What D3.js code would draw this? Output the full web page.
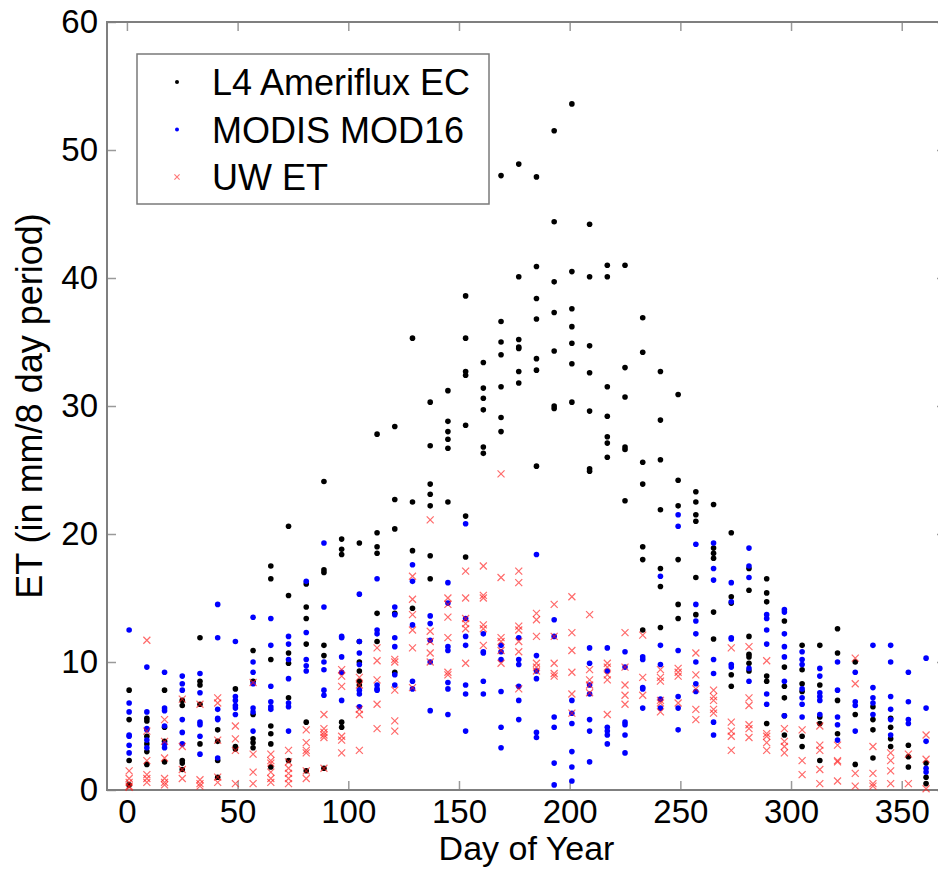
<!DOCTYPE html>
<html><head><meta charset="utf-8">
<script src="https://cdn.jsdelivr.net/npm/d3@7"></script>
<style>body{margin:0;background:#fff} svg{display:block;font-family:"Liberation Sans",Arial,sans-serif}</style>
</head><body><svg id="chart"></svg>
<script>
// 8-day periods (day of year at start of each period)
const days = [1,9,17,25,33,41,49,57,65,73,81,89,97,105,113,121,129,137,145,153,161,169,177,185,193,201,209,217,225,233,241,249,257,265,273,281,289,297,305,313,321,329,337,345,353,361];
// ET in mm per 8-day period, one list per period (several years each)
const ameriflux = [[7.8,5.5,2.3,0.4],[5.6,5.4,4.2,3.6,3.0,2.0],[7.8,4.9,3.8,2.2],[7.0,6.6,2.3,2.1,1.6],[11.9,8.5,8.2,6.7,3.6],[4.7,3.8,2.3,1.0],[7.9,3.4,3.2],[10.9,8.5,5.9,4.0,3.7,3.3],
 [17.5,16.5,10.2,5.0,4.4,3.6,1.8],[20.6,15.2,10.7,9.9,7.2,2.3],[16.1,14.3,13.4,11.4,5.3,1.5],[24.1,17.2,17.0,11.3,10.5,1.7],[19.6,18.8,18.4,5.3,4.9],[19.3,11.6,10.0,9.3,8.5,8.2],
 [27.8,20.1,19.0,18.5,13.8,11.6],[28.4,22.7,20.4,13.8,9.2],[35.3,22.5,18.7,14.2],[30.3,26.9,23.9,23.1,22.2,18.3,16.5],[31.2,28.8,28.0,27.4,26.7,22.5],[38.6,35.3,32.7,32.4,28.5,21.4,18.2],
 [33.4,31.4,30.6,29.7,26.8,26.3],[48.0,36.6,35.0,34.0,31.5,29.1,28.0],[48.9,40.1,35.2,34.6,34.5,32.7,31.8],[47.9,40.9,38.4,36.8,33.7,32.8,25.3],[51.5,44.4,39.7,37.3,34.3,30.0,29.8],
 [53.6,40.5,37.6,36.2,34.9,33.3,30.3],[44.2,40.1,34.7,32.6,29.6,25.1,24.9],[41.0,40.1,31.5,29.2,27.6,27.1,26.0],[41.0,33.0,30.7,26.8,26.6,22.6],[36.9,34.2,25.6,23.9,19.0,18.0,12.5],
 [32.7,28.9,25.8,21.9,17.3,15.9,12.7],[30.9,24.2,22.2,18.0,14.5,13.4],[23.3,22.5,21.5,21.0,16.6,13.7],[22.3,18.9,18.5,18.1,13.9,11.8],[20.1,15.1,14.6,9.0,8.1],[17.3,15.6,12.0,10.6,10.4,9.9,9.3],
 [16.5,15.4,14.7,8.9,8.5,5.2],[13.2,9.6,8.1,7.2,5.8,4.3],[11.3,9.4,8.3,7.7,4.2,3.4],[11.3,8.2,5.7,5.2,2.3],[12.6,10.7,7.0,4.4],[10.0,5.9,2.0],[6.5,5.5,4.7,2.5],[5.6,4.9,4.0,3.4],[3.5,2.6,1.8],[2.1,1.0,0.5]];
const mod16 = [[12.5,6.8,6.1,4.3,4.2,3.5,2.9],[9.6,6.1,4.8,4.7,3.9,3.3],[9.2,6.4,6.2,5.0,3.6,3.3],[8.9,8.3,7.8,5.5,4.5,3.6],[9.1,7.6,5.3,5.1,4.2,2.8],[14.5,11.9,6.3,5.6,5.5,2.5],[11.6,7.3,7.0,6.6,6.4,5.9],
 [13.5,10.0,9.2,8.3,6.4,6.1,4.6],[13.4,11.3,8.1,6.9,6.5,6.3],[12.0,11.4,10.2,8.7,6.8,6.5,4.6],[16.3,12.3,10.2,9.7,9.3],[19.3,14.3,10.0,9.4,7.8,7.4],[12.0,11.9,10.4,9.2,7.0],[15.3,11.6,10.7,9.8,7.8,7.5,6.5],
 [16.5,12.5,12.2,8.2,7.9,7.8],[14.3,13.7,11.9,11.2,9.0,8.2],[17.6,16.3,12.9,8.5,7.9],[13.6,13.0,11.7,10.0,6.2],[16.2,14.6,11.2,10.9,8.4,7.9,5.9],[20.8,13.4,12.0,11.3,8.2,7.5,4.6],
 [12.2,10.8,10.7,8.5,7.5],[11.3,10.8,10.2,7.7,4.9,3.3],[11.9,10.2,9.8,8.1,7.0,5.5],[18.4,10.5,9.3,8.7,4.5,4.1],[13.3,12.0,5.7,4.9,2.1,0.4],[7.0,6.0,5.2,3.0,1.8,0.7],
 [11.1,9.9,8.2,7.5,5.5,4.6,2.2],[11.1,9.3,4.9,4.6,4.3,3.6],[10.8,9.6,5.3,5.1,4.3,2.9],[10.4,10.2,8.0,7.9,6.4],[16.7,11.3,9.8,7.1,6.4],[21.5,20.6,10.9,7.3,6.4,4.7],
 [19.2,14.5,13.2,12.2,10.0,8.3,7.7],[19.3,17.3,16.4,10.2,9.1,5.3,4.3],[16.2,14.7,11.9,11.8,9.8,9.6],[18.9,17.5,16.6,9.5,8.5],[13.7,13.4,12.5,11.4,7.5,6.7],[14.1,13.9,12.2,11.2,10.4,8.5,5.8],
 [10.8,10.2,9.8,7.9,7.2,6.7,5.7],[9.5,8.9,7.6,7.3,7.0,5.9],[10.0,7.8,5.7,5.1,3.9],[9.2,6.9,6.6,4.6],[11.3,8.0,7.2,6.8,5.9],[11.3,10.0,7.3,6.3,5.5,4.3],[9.2,6.9,5.5,5.2],[10.3,6.4,3.8,1.7,1.4]];
const uwet = [[1.5,0.9,0.6,0.3,0.2],[11.7,4.6,2.3,1.2,0.9,0.6],[5.5,3.8,2.5,0.9,0.6,0.4],[7.1,3.4,1.6,0.9],[6.7,0.8,0.5,0.3],[7.2,6.8,3.9,1.0,0.6],[5.0,4.0,3.1,0.5],[8.4,2.8,1.4,0.5],
 [2.8,2.3,2.1,1.4,0.9,0.6],[3.1,2.2,1.7,1.3,0.9,0.5],[4.7,3.7,3.1,2.9,1.5,0.9],[5.9,4.8,4.5,4.3,4.1,1.7],[9.4,8.9,8.1,4.2,3.9,2.9],[8.8,8.2,6.3,5.9,3.1],[11.1,10.1,8.6,6.7,4.8],[10.2,10.0,7.8,5.4,4.6],
 [16.7,14.9,13.7,12.5,11.1,8.0],[21.1,12.4,11.6,10.7,10.0],[15.0,14.5,13.5,11.9,9.2,9.0],[17.1,15.0,13.4,13.0,12.6,9.9],[17.5,15.2,15.0,12.9,12.6,11.3],[24.7,16.6,11.9,11.6,10.9,9.9],
 [17.1,16.2,12.8,12.5,11.6,10.8,7.9],[13.8,13.3,12.0,9.9,9.6,9.3],[14.5,12.0,9.9,9.1,8.9],[15.1,12.3,10.9,9.2,7.5,6.0],[13.7,9.4,8.6,8.2,7.6],[9.9,9.6,9.0,8.6,5.9],[12.3,9.6,8.2,7.4,6.7],[12.1,8.8,7.4],
 [9.4,8.8,8.5,7.0,6.8,6.1],[9.5,9.2,8.9,6.8],[10.7,9.0,7.9,6.3,5.5],[7.8,7.3,7.0,6.3,6.0],[11.1,5.3,4.6,4.2,3.1],[11.2,7.2,6.6,5.1,4.8,4.1],[10.1,4.4,4.2,3.7,3.1],[4.8,3.8,3.4,2.9],
 [4.7,2.3,1.2],[5.0,3.5,3.1,1.6,0.5],[3.5,2.3,2.2,0.7],[10.3,8.3,1.3,0.3],[3.4,1.3,0.5,0.3],[2.9,2.3,1.5,0.5],[2.8,0.5],[4.3,2.4,0.1]];
const xTicks = [0,50,100,150,200,250,300,350];
const yTicks = [0,10,20,30,40,50,60];
const legendLabels = ['L4 Ameriflux EC','MODIS MOD16','UW ET'];

const W = 938, H = 871, box = {left: 107, right: 946, top: 22, bottom: 790};
const x = d3.scaleLinear().domain([-9, 370]).range([box.left, box.right]);
const y = d3.scaleLinear().domain([0, 60]).range([box.bottom, box.top]);
const flat = arr => arr.flatMap((vals, i) => vals.map(v => ({day: days[i], v})));

const svg = d3.select('#chart').attr('width', W).attr('height', H);
svg.append('rect').attr('width', W).attr('height', H).attr('fill', '#fff');

// inward MATLAB-style ticks on all four sides
const axisStyle = g => { g.attr('font-size', 33).attr('font-family', '"Liberation Sans",Arial,sans-serif');
  g.select('.domain').remove(); g.selectAll('.tick line').attr('stroke', '#9a9a9a').attr('stroke-width', 1.5); g.selectAll('.tick text').attr('fill', '#000'); };
svg.append('g').attr('transform', `translate(0,${box.bottom})`).call(d3.axisBottom(x).tickValues(xTicks).tickSize(-9).tickPadding(10)).call(axisStyle);
svg.append('g').attr('transform', `translate(0,${box.top})`).call(d3.axisTop(x).tickValues(xTicks).tickSize(-9).tickFormat('')).call(axisStyle);
svg.append('g').attr('transform', `translate(${box.left},0)`).call(d3.axisLeft(y).tickValues(yTicks).tickSize(-9).tickPadding(9)).call(axisStyle);
svg.append('g').attr('transform', `translate(${box.right},0)`).call(d3.axisRight(y).tickValues(yTicks).tickSize(-9).tickFormat('')).call(axisStyle);
svg.append('rect').attr('x', box.left).attr('y', box.top).attr('width', box.right - box.left).attr('height', box.bottom - box.top)
  .attr('fill', 'none').attr('stroke', '#7f7f7f').attr('stroke-width', 2);

const xPath = s => `M${-s},${-s}L${s},${s}M${-s},${s}L${s},${-s}`;
const drawDots = (data, color) => svg.append('g').selectAll('circle').data(flat(data)).join('circle')
  .attr('cx', d => x(d.day)).attr('cy', d => y(d.v)).attr('r', 2.8).attr('fill', color);
drawDots(ameriflux, '#000');
drawDots(mod16, '#0000ff');
svg.append('g').selectAll('path').data(flat(uwet)).join('path')
  .attr('transform', d => `translate(${x(d.day)},${y(d.v)})`).attr('d', xPath(3.5))
  .attr('fill', 'none').attr('stroke', '#ff1a1a').attr('stroke-opacity', 0.65).attr('stroke-width', 1.2);

// legend
const lg = svg.append('g').attr('transform', 'translate(137,54)');
lg.append('rect').attr('width', 352).attr('height', 150).attr('fill', '#fff').attr('stroke', '#7a7a7a').attr('stroke-width', 1.5);
const rows = lg.selectAll('.row').data(legendLabels).join('g').attr('class', 'row').attr('transform', (d, i) => `translate(0,${28 + i * 47.5})`);
rows.append('text').attr('x', 75).attr('y', 13).attr('font-size', 36).attr('fill', '#000').text(d => d);
rows.filter((d, i) => i < 2).append('circle').attr('cx', 40).attr('r', 2).attr('fill', (d, i) => i ? '#0000ff' : '#000');
rows.filter((d, i) => i === 2).append('path').attr('transform', 'translate(40,0)').attr('d', xPath(2.6))
  .attr('fill', 'none').attr('stroke', '#ff1a1a').attr('stroke-opacity', 0.6).attr('stroke-width', 1.1);

// axis titles
svg.append('text').attr('x', (box.left + box.right) / 2).attr('y', 860).attr('text-anchor', 'middle').attr('font-size', 34).text('Day of Year');
svg.append('text').attr('transform', `translate(42,${(box.top + box.bottom) / 2}) rotate(-90)`).attr('text-anchor', 'middle').attr('font-size', 36).text('ET (in mm/8 day period)');
</script></body></html>
